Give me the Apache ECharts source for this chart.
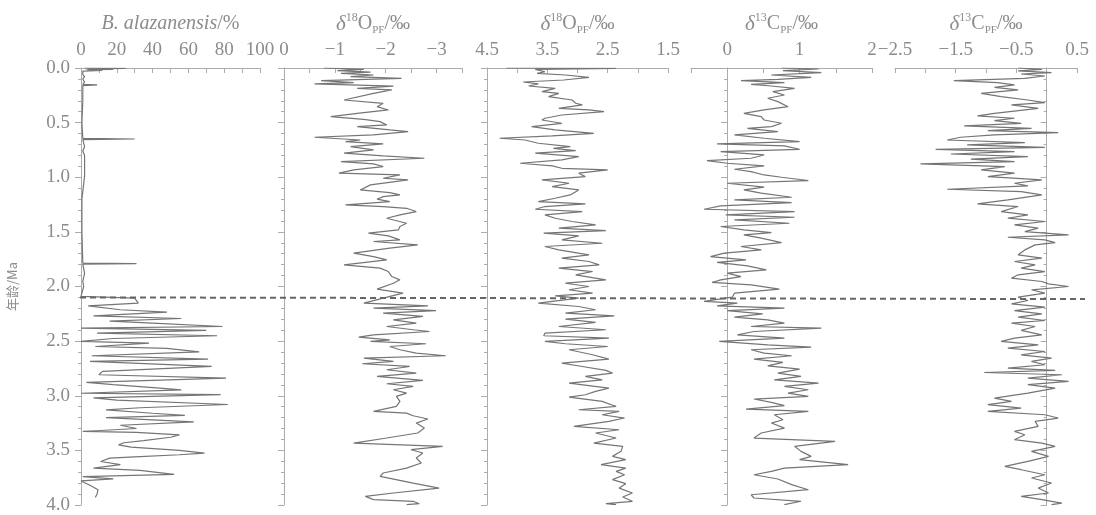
<!DOCTYPE html>
<html lang="zh">
<head>
    <meta charset="UTF-8">
    <title>岩芯记录</title>
    <script src="https://cdn.jsdelivr.net/npm/echarts@6/dist/echarts.min.js"></script>
    <style>
        html, body { margin: 0; padding: 0; background: #fff; }
        #main { width: 1096px; height: 515px; }
    </style>
</head>
<body>
<div id="main"></div>
<script type="text/javascript">
    // 每组数据: [年龄(Ma), 数值]
    var alazData = [
        [0.000, 2], [0.004, 25], [0.008, 4], [0.012, 18], [0.016, 3], [0.022, 12], [0.028, 1], [0.04, 2],
        [0.06, 1], [0.08, 2], [0.10, 1], [0.13, 2], [0.150, 1], [0.155, 9], [0.162, 1], [0.2, 1], [0.3, 1],
        [0.5, 0.5], [0.645, 1], [0.650, 30], [0.656, 1], [0.72, 2], [0.76, 1], [0.80, 2], [0.99, 2], [1.2, 0.5],
        [1.5, 0.5], [1.785, 1], [1.790, 31], [1.796, 1], [1.88, 2], [1.95, 1], [2.00, 1.5], [2.09, 0],
        [2.107, 30], [2.152, 32], [2.177, 4], [2.213, 22], [2.235, 48], [2.268, 7], [2.293, 56], [2.317, 16],
        [2.335, 40], [2.366, 79], [2.381, 0], [2.402, 70], [2.427, 9], [2.451, 76], [2.476, 18], [2.503, 0],
        [2.518, 38], [2.549, 8], [2.567, 48], [2.598, 66], [2.634, 6], [2.665, 71], [2.686, 5], [2.732, 73],
        [2.777, 12], [2.808, 10], [2.838, 81], [2.878, 3], [2.899, 18], [2.930, 44], [2.946, 56], [2.977, 0],
        [2.99, 78], [3.02, 7], [3.04, 20], [3.08, 82], [3.11, 33], [3.13, 14], [3.16, 40], [3.18, 58],
        [3.20, 14], [3.24, 63], [3.27, 22], [3.30, 31], [3.327, 1], [3.335, 31], [3.358, 55], [3.38, 50],
        [3.41, 35], [3.43, 24], [3.449, 21], [3.47, 28], [3.50, 55], [3.526, 69], [3.54, 55], [3.56, 30],
        [3.571, 16], [3.602, 11], [3.631, 22], [3.662, 7], [3.683, 33], [3.72, 52], [3.74, 1], [3.76, 18],
        [3.78, 0], [3.82, 5], [3.86, 9.5], [3.90, 9], [3.93, 8]
    ];

    var o18aData = [
        [0.000, -0.79], [0.012, -1.57], [0.024, -1.05], [0.037, -1.70], [0.049, -1.12], [0.064, -1.76],
        [0.079, -1.31], [0.095, -2.31], [0.116, -0.73], [0.134, -1.37], [0.146, -0.60], [0.165, -2.15],
        [0.186, -1.44], [0.201, -2.12], [0.232, -1.76], [0.293, -1.18], [0.323, -1.95], [0.354, -1.83],
        [0.384, -2.05], [0.415, -1.44], [0.445, -0.92], [0.470, -1.57], [0.491, -1.89], [0.521, -2.02],
        [0.537, -1.44], [0.567, -2.08], [0.582, -2.44], [0.613, -1.76], [0.634, -0.60], [0.659, -1.50],
        [0.674, -1.21], [0.695, -1.95], [0.720, -1.31], [0.750, -1.76], [0.780, -1.18], [0.805, -1.95],
        [0.826, -2.76], [0.857, -1.12], [0.878, -1.76], [0.902, -1.95], [0.933, -1.37], [0.963, -1.08],
        [0.979, -2.28], [1.009, -1.95], [1.024, -2.44], [1.070, -1.70], [1.116, -1.50], [1.140, -2.08],
        [1.162, -2.28], [1.177, -1.95], [1.201, -1.83], [1.223, -2.08], [1.253, -1.21], [1.268, -1.95],
        [1.284, -2.41], [1.314, -2.60], [1.345, -2.28], [1.375, -2.02], [1.421, -2.41], [1.451, -2.28],
        [1.482, -2.25], [1.512, -1.66], [1.537, -2.05], [1.573, -2.28], [1.588, -1.76], [1.619, -2.63],
        [1.649, -2.08], [1.695, -1.37], [1.726, -1.76], [1.756, -2.02], [1.802, -1.18], [1.832, -1.89],
        [1.863, -2.05], [1.909, -2.12], [1.939, -2.28], [1.970, -2.15], [2.024, -1.83], [2.061, -2.34],
        [2.107, -1.95], [2.152, -1.57], [2.177, -2.83], [2.198, -1.76], [2.220, -2.99], [2.244, -1.95],
        [2.274, -2.73], [2.305, -2.15], [2.335, -2.60], [2.366, -2.02], [2.396, -2.54], [2.412, -2.86],
        [2.442, -1.76], [2.463, -1.47], [2.488, -2.08], [2.503, -1.70], [2.524, -2.79], [2.549, -2.08],
        [2.579, -2.28], [2.610, -2.60], [2.634, -3.18], [2.655, -1.57], [2.686, -2.15], [2.707, -1.54],
        [2.732, -2.47], [2.762, -2.02], [2.793, -2.60], [2.823, -1.83], [2.860, -2.73], [2.890, -2.02],
        [2.915, -2.54], [2.945, -2.15], [2.976, -2.41], [3.006, -2.21], [3.052, -2.28], [3.098, -2.21],
        [3.143, -1.76], [3.159, -2.41], [3.183, -2.54], [3.213, -2.83], [3.250, -2.60], [3.296, -2.76],
        [3.341, -2.63], [3.387, -2.02], [3.433, -1.37], [3.463, -3.12], [3.494, -2.50], [3.524, -2.73],
        [3.570, -2.60], [3.616, -2.70], [3.662, -2.41], [3.707, -1.95], [3.738, -1.89], [3.799, -2.54],
        [3.845, -3.05], [3.890, -2.15], [3.921, -1.60], [3.951, -1.76], [3.966, -2.54], [3.988, -2.66],
        [3.997, -2.41]
    ];

    var o18bData = [
        [0.000, 4.18], [0.003, 2.36], [0.012, 3.70], [0.034, 3.54], [0.049, 3.67], [0.064, 3.20], [0.085, 2.81],
        [0.110, 3.23], [0.128, 3.90], [0.146, 3.65], [0.165, 3.81], [0.186, 3.37], [0.216, 3.59], [0.232, 3.31],
        [0.262, 3.48], [0.293, 3.09], [0.323, 3.03], [0.338, 2.92], [0.369, 3.31], [0.384, 2.81], [0.399, 2.56],
        [0.430, 3.26], [0.460, 3.54], [0.476, 3.59], [0.506, 3.26], [0.537, 3.76], [0.567, 3.37], [0.598, 2.73],
        [0.622, 3.42], [0.643, 4.29], [0.659, 3.87], [0.689, 3.65], [0.720, 3.12], [0.735, 3.40], [0.756, 3.03],
        [0.780, 3.70], [0.811, 2.98], [0.841, 3.26], [0.872, 3.95], [0.896, 3.42], [0.918, 3.26], [0.933, 2.50],
        [0.963, 2.98], [0.994, 2.87], [1.024, 3.59], [1.055, 3.14], [1.085, 3.42], [1.116, 2.98], [1.162, 3.12],
        [1.192, 3.37], [1.223, 3.65], [1.244, 2.87], [1.268, 3.54], [1.293, 3.70], [1.314, 2.92], [1.345, 3.54],
        [1.375, 3.37], [1.405, 3.09], [1.436, 2.70], [1.466, 3.31], [1.488, 2.53], [1.512, 3.56], [1.537, 2.98],
        [1.573, 3.26], [1.604, 2.59], [1.634, 3.54], [1.665, 3.31], [1.710, 2.81], [1.741, 3.26], [1.771, 2.81],
        [1.802, 2.64], [1.832, 3.31], [1.863, 2.75], [1.893, 3.03], [1.939, 2.53], [1.970, 3.20], [2.000, 2.81],
        [2.030, 3.14], [2.061, 2.75], [2.085, 3.37], [2.107, 2.98], [2.152, 3.65], [2.183, 2.98], [2.213, 2.70],
        [2.244, 3.20], [2.268, 2.39], [2.299, 3.20], [2.329, 2.70], [2.366, 3.31], [2.396, 2.53], [2.427, 3.54],
        [2.451, 3.56], [2.473, 2.48], [2.503, 3.54], [2.524, 3.20], [2.549, 2.50], [2.579, 3.14], [2.625, 2.75],
        [2.665, 2.48], [2.701, 3.26], [2.732, 2.92], [2.768, 2.53], [2.793, 2.42], [2.823, 2.87], [2.854, 2.59],
        [2.884, 3.14], [2.930, 2.48], [2.960, 2.70], [2.991, 2.87], [3.012, 3.14], [3.052, 2.59], [3.098, 2.36],
        [3.128, 2.98], [3.143, 2.31], [3.174, 2.59], [3.204, 2.22], [3.235, 2.48], [3.280, 3.06], [3.311, 2.31],
        [3.341, 2.70], [3.387, 2.36], [3.433, 2.73], [3.463, 2.25], [3.509, 2.28], [3.555, 2.42], [3.585, 2.20],
        [3.631, 2.61], [3.662, 2.20], [3.692, 2.36], [3.723, 2.22], [3.768, 2.42], [3.805, 2.20], [3.845, 2.31],
        [3.890, 2.09], [3.927, 2.25], [3.966, 2.09], [3.988, 2.53], [3.997, 2.36]
    ];

    var c13aData = [
        [0.000, 0.75], [0.009, 1.26], [0.024, 0.77], [0.043, 1.30], [0.064, 0.61], [0.085, 1.16], [0.104, 0.70],
        [0.116, 0.19], [0.134, 0.79], [0.149, 0.33], [0.165, 0.61], [0.186, 0.93], [0.216, 0.63], [0.247, 0.79],
        [0.277, 0.56], [0.308, 0.70], [0.354, 0.84], [0.384, 0.51], [0.415, 0.23], [0.445, 0.47], [0.476, 0.51],
        [0.506, 0.75], [0.537, 0.61], [0.552, 0.28], [0.582, 0.70], [0.613, 0.10], [0.643, 0.51], [0.674, 1.00],
        [0.695, -0.14], [0.713, 0.79], [0.744, 1.00], [0.765, -0.09], [0.796, 0.51], [0.826, 0.33], [0.848, -0.28],
        [0.872, 0.00], [0.896, 0.51], [0.927, 0.10], [0.948, 0.33], [0.979, 0.51], [1.000, 0.75], [1.030, 1.12],
        [1.055, 0.00], [1.091, 0.51], [1.116, 0.23], [1.146, 0.47], [1.183, 0.89], [1.207, 0.10], [1.232, 0.89],
        [1.262, -0.09], [1.293, -0.32], [1.314, 0.93], [1.345, -0.02], [1.366, 0.93], [1.390, 0.10], [1.421, 0.86],
        [1.451, -0.09], [1.482, 0.23], [1.506, 0.61], [1.527, 0.23], [1.558, 0.47], [1.598, 0.75], [1.634, 0.19],
        [1.665, 0.47], [1.695, -0.04], [1.726, -0.23], [1.756, 0.26], [1.780, -0.14], [1.811, 0.28], [1.848, 0.54],
        [1.878, 0.00], [1.909, 0.19], [1.939, -0.09], [1.963, -0.21], [1.985, 0.33], [2.024, 0.72], [2.061, 0.10],
        [2.098, 0.07], [2.137, -0.32], [2.152, 0.14], [2.177, -0.14], [2.198, 0.79], [2.220, 0.00], [2.250, 0.49],
        [2.280, 0.10], [2.305, 0.56], [2.335, 0.79], [2.366, 0.33], [2.381, 1.30], [2.412, 0.37], [2.442, 0.14],
        [2.473, 0.79], [2.503, -0.11], [2.534, 0.56], [2.555, 1.16], [2.579, 0.33], [2.610, 0.51], [2.634, 0.89],
        [2.665, 0.37], [2.695, 0.77], [2.726, 0.56], [2.756, 1.00], [2.793, 0.70], [2.823, 1.02], [2.854, 0.65],
        [2.884, 1.26], [2.915, 0.79], [2.945, 1.12], [2.976, 0.84], [3.006, 1.12], [3.030, 0.37], [3.061, 0.61],
        [3.091, 0.79], [3.122, 0.26], [3.143, 1.12], [3.174, 0.65], [3.220, 0.77], [3.250, 0.61], [3.296, 0.79],
        [3.341, 0.47], [3.387, 0.37], [3.418, 1.49], [3.463, 0.93], [3.509, 1.02], [3.555, 1.16], [3.585, 1.00],
        [3.631, 1.67], [3.662, 0.79], [3.692, 0.61], [3.723, 0.37], [3.762, 0.70], [3.814, 0.89], [3.860, 1.12],
        [3.906, 0.33], [3.936, 0.37], [3.966, 1.02], [3.997, 0.79]
    ];

    var c13bData = [
        [0.000, -0.47], [0.012, -0.08], [0.027, -0.47], [0.043, 0.08], [0.055, -0.42], [0.073, -0.03],
        [0.095, -0.36], [0.116, -1.53], [0.134, -0.81], [0.155, -0.53], [0.177, -0.86], [0.201, -0.47],
        [0.232, -1.08], [0.262, -0.75], [0.293, -0.31], [0.317, -0.03], [0.338, -0.58], [0.369, -0.14],
        [0.415, -0.86], [0.439, -1.14], [0.460, -0.53], [0.482, -0.86], [0.506, -0.42], [0.530, -1.36],
        [0.552, -0.25], [0.573, -0.97], [0.591, 0.19], [0.613, -0.86], [0.634, -1.42], [0.659, -1.64],
        [0.683, -0.36], [0.704, -1.31], [0.726, -0.03], [0.744, -1.83], [0.765, -0.53], [0.787, -1.58],
        [0.811, -0.31], [0.835, -1.25], [0.857, -0.53], [0.878, -2.08], [0.902, -0.69], [0.933, -1.08],
        [0.963, -0.53], [0.994, -0.97], [1.024, -0.08], [1.055, -0.53], [1.079, -0.31], [1.110, -1.64],
        [1.131, -0.42], [1.162, -0.08], [1.207, -0.64], [1.244, -1.14], [1.268, -0.47], [1.314, -0.75],
        [1.345, -0.31], [1.375, -0.64], [1.405, -0.03], [1.436, -0.53], [1.466, -0.14], [1.497, -0.36],
        [1.527, 0.36], [1.549, -0.64], [1.573, -0.03], [1.598, 0.14], [1.619, -0.19], [1.665, -0.36],
        [1.710, -0.47], [1.741, -0.08], [1.771, -0.53], [1.802, -0.19], [1.832, -0.42], [1.863, -0.03],
        [1.893, -0.47], [1.924, -0.58], [1.954, -0.08], [1.976, 0.03], [2.000, 0.36], [2.030, -0.25],
        [2.061, -0.03], [2.098, -0.47], [2.128, -0.31], [2.159, -0.58], [2.189, -0.03], [2.220, -0.53],
        [2.250, -0.08], [2.280, -0.47], [2.311, -0.03], [2.335, -0.58], [2.366, -0.19], [2.402, -0.42],
        [2.442, -0.08], [2.473, -0.53], [2.503, -0.75], [2.534, -0.14], [2.564, -0.64], [2.595, -0.03],
        [2.625, -0.42], [2.655, 0.08], [2.686, -0.25], [2.716, -0.03], [2.747, -0.64], [2.768, 0.14],
        [2.787, -1.03], [2.808, 0.25], [2.838, -0.31], [2.869, 0.36], [2.899, -0.31], [2.930, 0.14],
        [2.976, -0.31], [3.021, -0.86], [3.052, -0.58], [3.082, -0.97], [3.113, -0.42], [3.143, -0.97],
        [3.174, -0.03], [3.204, 0.19], [3.235, -0.19], [3.280, -0.14], [3.326, -0.53], [3.357, -0.36],
        [3.402, -0.53], [3.433, -0.08], [3.463, 0.14], [3.509, -0.25], [3.555, 0.03], [3.601, -0.31],
        [3.646, -0.69], [3.677, -0.42], [3.723, -0.03], [3.753, -0.25], [3.799, 0.08], [3.845, -0.14],
        [3.890, 0.03], [3.921, -0.42], [3.951, -0.08], [3.982, 0.25], [3.997, 0.08]
    ];

    // 分界线 (约2.1 Ma)
    var boundaryAge = [2.10, 2.115];

    var TXT = '#8c8c8c';
    var AXC = '#ababab';
    var SERIF = '"Liberation Serif", "DejaVu Serif", serif';

    var panels = [
        { left: 81, width: 179, min: 0, max: 100, step: 10, inverse: false, data: alazData,
          label: function (v) { return v % 20 === 0 ? String(v) : ''; },
          name: '{i|B. alazanensis}{t|/%}' },
        { left: 284, width: 178, min: -3.5, max: 0, step: 0.5, inverse: true, data: o18aData,
          label: function (v) { return Number.isInteger(v) ? (v < 0 ? '\u2212' + (-v) : String(v)) : ''; },
          name: '{d|δ}{sup|18}{t|O}{sub|PF}{t|/‰}' },
        { left: 487, width: 181, min: 1.5, max: 4.5, step: 0.5, inverse: true, data: o18bData,
          label: function (v) { return Math.abs((v - 1.5) % 1) < 1e-6 ? v.toFixed(1) : ''; },
          name: '{d|δ}{sup|18}{t|O}{sub|PF}{t|/‰}' },
        { left: 691, width: 181, min: -0.5, max: 2, step: 0.5, inverse: false, data: c13aData,
          label: function (v) { return Number.isInteger(v) ? String(v) : ''; },
          name: '{d|δ}{sup|13}{t|C}{sub|PF}{t|/‰}' },
        { left: 895, width: 182, min: -2.5, max: 0.5, step: 0.5, inverse: false, data: c13bData,
          label: function (v) {
              if (Math.abs((v + 2.5) % 1) > 1e-6) return '';
              return v < 0 ? '\u2212' + (-v).toFixed(1) : v.toFixed(1);
          },
          name: '{d|δ}{sup|13}{t|C}{sub|PF}{t|/‰}' }
    ];

    var richName = {
        i: { fontFamily: SERIF, fontStyle: 'italic', fontSize: 20, color: TXT, lineHeight: 24 },
        t: { fontFamily: SERIF, fontSize: 20, color: TXT, lineHeight: 24 },
        d: { fontFamily: SERIF, fontStyle: 'italic', fontSize: 21, color: TXT, lineHeight: 24 },
        sup: { fontFamily: SERIF, fontSize: 12, color: TXT, lineHeight: 13, verticalAlign: 'top' },
        sub: { fontFamily: SERIF, fontSize: 11, color: TXT, lineHeight: 11, verticalAlign: 'bottom' }
    };

    var grids = [], xAxes = [], yAxes = [], series = [];

    panels.forEach(function (p, k) {
        grids.push({ left: p.left, width: p.width, top: 68, height: 437, outerBoundsMode: 'none' });
        xAxes.push({
            gridIndex: k, type: 'value', position: 'top',
            min: p.min, max: p.max, interval: p.step, inverse: p.inverse,
            name: p.name, nameLocation: 'middle', nameGap: 32,
            nameTextStyle: { rich: richName },
            axisLine: { show: true, lineStyle: { color: AXC, width: 1 } },
            axisTick: { show: true, inside: true, length: 5, lineStyle: { color: AXC } },
            axisLabel: { color: TXT, fontFamily: SERIF, fontSize: 19, margin: 8, formatter: p.label,
                         showMinLabel: true, showMaxLabel: true, hideOverlap: false },
            splitLine: { show: false }
        });
        yAxes.push({
            gridIndex: k, type: 'value', inverse: true, min: 0, max: 4, interval: 0.5,
            name: k === 0 ? '年龄/Ma' : '', nameLocation: 'middle', nameGap: 62, nameRotate: 90,
            nameTextStyle: { color: TXT, fontSize: 13, fontFamily: '"Noto Sans CJK SC", sans-serif' },
            axisLine: { show: true, lineStyle: { color: AXC, width: 1 } },
            axisTick: { show: true, length: 6, lineStyle: { color: AXC } },
            minorTick: { show: true, splitNumber: 5, length: 3, lineStyle: { color: AXC } },
            axisLabel: { show: k === 0, color: TXT, fontFamily: SERIF, fontSize: 19, margin: 11,
                         formatter: function (v) { return v.toFixed(1); } },
            splitLine: { show: false }
        });
        series.push({
            type: 'line', xAxisIndex: k, yAxisIndex: k,
            data: p.data, encode: { x: 1, y: 0 },
            showSymbol: false, symbol: 'none', silent: true, animation: false,
            lineStyle: { color: '#757575', width: 1.2 }
        });
    });

    // 贯穿所有面板的虚线
    grids.push({ left: 80, width: 1005, top: 68, height: 437, outerBoundsMode: 'none' });
    xAxes.push({ gridIndex: 5, type: 'value', min: 0, max: 1, show: false });
    yAxes.push({ gridIndex: 5, type: 'value', inverse: true, min: 0, max: 4, show: false });
    series.push({
        type: 'line', xAxisIndex: 5, yAxisIndex: 5,
        data: [[0, boundaryAge[0]], [1, boundaryAge[1]]],
        symbol: 'none', silent: true, animation: false,
        lineStyle: { color: '#666', width: 2, type: [6, 4] }
    });

    var myChart = echarts.init(document.getElementById('main'));
    myChart.setOption({
        backgroundColor: '#fff',
        animation: false,
        grid: grids,
        xAxis: xAxes,
        yAxis: yAxes,
        series: series
    });
</script>
</body>
</html>
